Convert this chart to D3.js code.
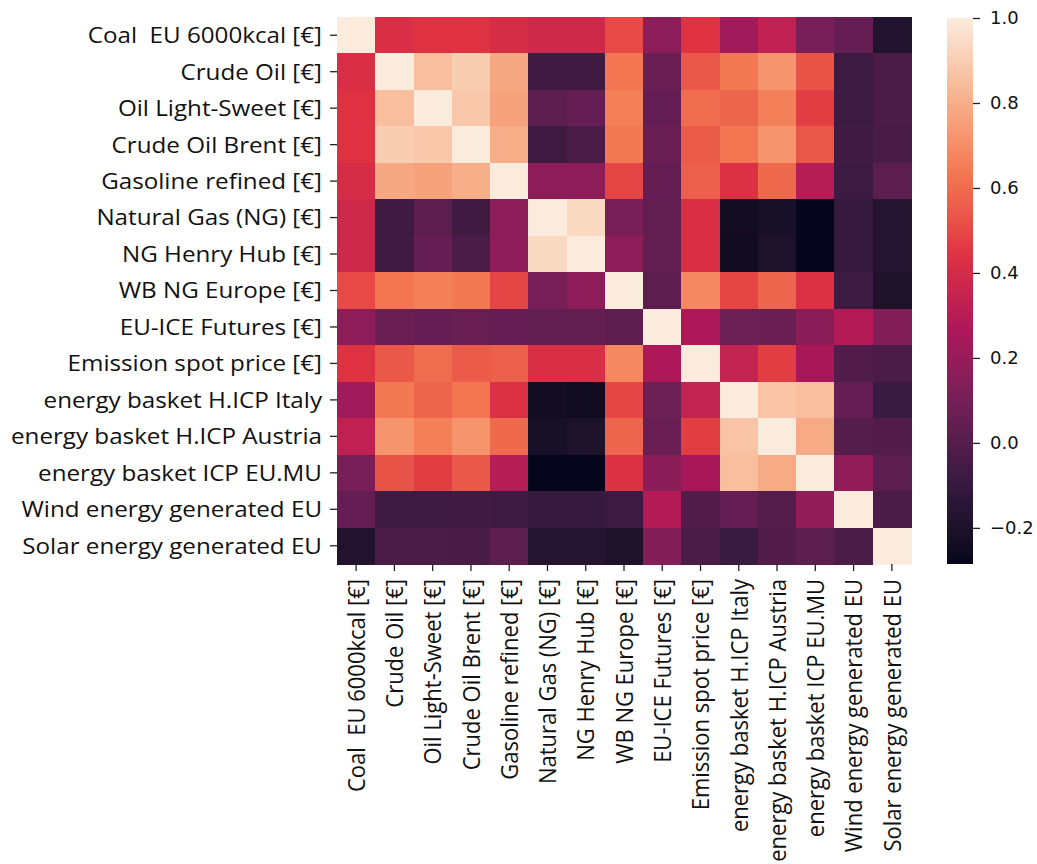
<!DOCTYPE html>
<html>
<head>
<meta charset="utf-8">
<script src="https://cdn.jsdelivr.net/npm/d3@7"></script>
<style>
  html, body { margin: 0; padding: 0; background: #fff; }
  svg { display: block; }
  .lbl text { font-family: "Open Sans", sans-serif; font-size: 22px; fill: #111; white-space: pre; }
  .cb text { font-family: "DejaVu Sans", sans-serif; font-size: 18px; fill: #111; }
</style>
</head>
<body>
<svg id="chart" width="1037" height="864"></svg>
<script>
// Variables of the correlation matrix (same order on both axes)
const variables = [
  "Coal  EU 6000kcal [€]",
  "Crude Oil [€]",
  "Oil Light-Sweet [€]",
  "Crude Oil Brent [€]",
  "Gasoline refined [€]",
  "Natural Gas (NG) [€]",
  "NG Henry Hub [€]",
  "WB NG Europe [€]",
  "EU-ICE Futures [€]",
  "Emission spot price [€]",
  "energy basket H.ICP Italy",
  "energy basket H.ICP Austria",
  "energy basket ICP EU.MU",
  "Wind energy generated EU",
  "Solar energy generated EU"
];

// Pearson correlation coefficients, one row per variable
const correlations = [
  [ 1.00, 0.42, 0.44, 0.44, 0.41, 0.38, 0.38, 0.50, 0.17, 0.44, 0.23, 0.33, 0.11, 0.05,-0.18],
  [ 0.42, 1.00, 0.85, 0.90, 0.78,-0.07,-0.07, 0.63, 0.06, 0.54, 0.64, 0.72, 0.53,-0.08,-0.03],
  [ 0.44, 0.85, 1.00, 0.88, 0.76, 0.02, 0.05, 0.66, 0.05, 0.60, 0.58, 0.66, 0.47,-0.08,-0.03],
  [ 0.44, 0.90, 0.88, 1.00, 0.80,-0.07,-0.03, 0.64, 0.06, 0.55, 0.63, 0.72, 0.54,-0.07,-0.04],
  [ 0.41, 0.78, 0.76, 0.80, 1.00, 0.17, 0.17, 0.49, 0.05, 0.56, 0.43, 0.59, 0.30,-0.08, 0.02],
  [ 0.38,-0.07, 0.02,-0.07, 0.17, 1.00, 0.94, 0.11, 0.04, 0.42,-0.24,-0.22,-0.28,-0.10,-0.17],
  [ 0.38,-0.07, 0.05,-0.03, 0.17, 0.94, 1.00, 0.17, 0.04, 0.42,-0.25,-0.20,-0.28,-0.10,-0.17],
  [ 0.50, 0.63, 0.66, 0.64, 0.49, 0.11, 0.17, 1.00, 0.02, 0.68, 0.49, 0.58, 0.43,-0.08,-0.20],
  [ 0.17, 0.06, 0.05, 0.06, 0.05, 0.04, 0.04, 0.02, 1.00, 0.27, 0.07, 0.06, 0.16, 0.29, 0.14],
  [ 0.44, 0.54, 0.60, 0.55, 0.56, 0.42, 0.42, 0.68, 0.27, 1.00, 0.34, 0.47, 0.25,-0.01,-0.03],
  [ 0.23, 0.64, 0.58, 0.63, 0.43,-0.24,-0.25, 0.49, 0.07, 0.34, 1.00, 0.87, 0.85, 0.05,-0.09],
  [ 0.33, 0.72, 0.66, 0.72, 0.59,-0.22,-0.20, 0.58, 0.06, 0.47, 0.87, 1.00, 0.79, 0.00,-0.01],
  [ 0.11, 0.53, 0.47, 0.54, 0.30,-0.28,-0.28, 0.43, 0.16, 0.25, 0.85, 0.79, 1.00, 0.18, 0.02],
  [ 0.05,-0.08,-0.08,-0.07,-0.08,-0.10,-0.10,-0.08, 0.29,-0.01, 0.05, 0.00, 0.18, 1.00,-0.03],
  [-0.18,-0.03,-0.03,-0.04, 0.02,-0.17,-0.17,-0.20, 0.14,-0.03,-0.09,-0.01, 0.02,-0.03, 1.00]
];

// Colour bar range and ticks
const colorDomain = [-0.285, 1.0];
const colorbarTicks = [-0.2, 0.0, 0.2, 0.4, 0.6, 0.8, 1.0];

// "rocket" sequential palette sampled at evenly spaced stops
const rocketStops = ["#03051a", "#35193e", "#701f57", "#ad1759", "#e13342", "#f37651", "#f6b48f", "#faebdd"];

const svg = d3.select("#chart");
const plotLeft = 337, plotRight = 911, plotTop = 17, plotBottom = 564;
// labels are drawn slightly wider than tall
const stretchX = 1.1;

const x = d3.scaleBand().domain(variables).range([plotLeft, plotRight]).paddingInner(0).paddingOuter(0);
const y = d3.scaleBand().domain(variables).range([plotTop, plotBottom]).paddingInner(0).paddingOuter(0);

const rocket = d3.scaleLinear()
  .domain(rocketStops.map((_, i) => i / (rocketStops.length - 1)))
  .range(rocketStops)
  .interpolate(d3.interpolateLab)
  .clamp(true);
const norm = d3.scaleLinear().domain(colorDomain).range([0, 1]).clamp(true);
const color = v => rocket(norm(v));

// Heatmap cells
const cells = [];
correlations.forEach((row, i) => row.forEach((v, j) => cells.push({ r: variables[i], c: variables[j], v })));

svg.append("g")
  .attr("shape-rendering", "crispEdges")
  .selectAll("rect")
  .data(cells)
  .join("rect")
  .attr("x", d => x(d.c))
  .attr("y", d => y(d.r))
  .attr("width", x.bandwidth() + 0.5)
  .attr("height", y.bandwidth() + 0.5)
  .attr("fill", d => color(d.v));

// Row labels
const yAxis = svg.append("g")
  .attr("class", "lbl")
  .attr("transform", `translate(${plotLeft},0)`)
  .call(d3.axisLeft(y).tickSize(7).tickPadding(8));
yAxis.select(".domain").remove();
yAxis.selectAll(".tick line").attr("stroke", "#222").attr("stroke-width", 1.3);
yAxis.selectAll(".tick text")
  .attr("x", -15 / stretchX)
  .attr("dy", "0.36em")
  .attr("transform", `scale(${stretchX},1)`);

// Column labels, rotated
const xAxis = svg.append("g")
  .attr("class", "lbl")
  .attr("transform", `translate(0,${plotBottom})`)
  .call(d3.axisBottom(x).tickSize(7).tickPadding(8));
xAxis.select(".domain").remove();
xAxis.selectAll(".tick line").attr("stroke", "#222").attr("stroke-width", 1.3);
xAxis.selectAll(".tick text")
  .attr("transform", `scale(${stretchX},1) rotate(-90)`)
  .attr("text-anchor", "end")
  .attr("x", -15)
  .attr("y", 0)
  .attr("dy", "0.36em");

// Colour bar
const cbX = 947, cbW = 26;
const cbScale = d3.scaleLinear().domain(colorDomain).range([plotBottom, plotTop + 1]);

const defs = svg.append("defs");
const grad = defs.append("linearGradient")
  .attr("id", "cbgrad")
  .attr("x1", 0).attr("y1", 1).attr("x2", 0).attr("y2", 0);
d3.range(0, 1.0001, 0.02).forEach(t => {
  grad.append("stop").attr("offset", t).attr("stop-color", rocket(t));
});

svg.append("rect")
  .attr("x", cbX)
  .attr("y", cbScale(colorDomain[1]))
  .attr("width", cbW)
  .attr("height", cbScale(colorDomain[0]) - cbScale(colorDomain[1]))
  .attr("fill", "url(#cbgrad)");

const fmt = d3.format(".1f");
const cbAxis = svg.append("g")
  .attr("class", "cb")
  .attr("transform", `translate(${cbX + cbW},0)`)
  .call(d3.axisRight(cbScale).tickValues(colorbarTicks).tickSize(7).tickPadding(10)
    .tickFormat(v => fmt(v).replace("-", "\u2212")));
cbAxis.select(".domain").remove();
cbAxis.selectAll(".tick line").attr("stroke", "#222").attr("stroke-width", 1.3);
</script>
</body>
</html>
